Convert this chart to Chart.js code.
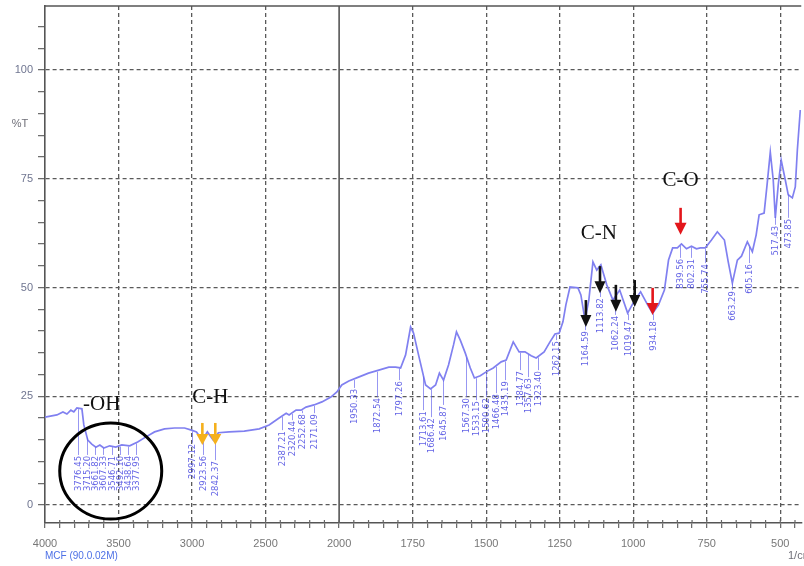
<!DOCTYPE html>
<html><head><meta charset="utf-8">
<script src="https://cdn.jsdelivr.net/npm/chart.js@4.4.1/dist/chart.umd.min.js"></script>
<style>html,body{margin:0;padding:0;background:#fff;overflow:hidden}#wrap{width:804px;height:566px;position:relative}</style>
</head><body><div id="wrap"><canvas id="c" width="804" height="566"></canvas></div>
<script>
// ---- data (wavenumber in 1/cm, transmittance in %T) ----
const wavenumbers = [4000,3919,3878,3851,3824,3804,3783,3749,3736,3709,3682,3654,3627,3600,3560,3519,3478,3424,3370,3316,3255,3187,3119,3051,3004,2970,2930,2896,2855,2821,2747,2645,2543,2476,2408,2360,2340,2293,2259,2225,2171,2117,2056,2015,1991,1967,1934,1900,1865,1831,1808,1791,1774,1757,1747,1730,1706,1689,1672,1659,1645,1628,1611,1601,1588,1571,1554,1540,1520,1500,1476,1449,1432,1408,1388,1368,1347,1330,1303,1283,1266,1252,1239,1229,1215,1188,1178,1164,1151,1137,1124,1110,1090,1069,1046,1019,995,975,951,934,914,894,880,866,850,836,819,802,785,772,755,734,714,690,677,663,646,632,612,595,582,572,555,545,534,524,517,507,497,483,473,459,449,442,432];
const transmittance = [20.2,20.7,21.4,20.9,21.8,21.4,22.3,22.1,18.4,14.9,14.0,13.3,13.8,13.1,13.6,13.3,13.8,13.6,14.5,15.6,16.8,17.5,17.7,17.7,17.2,16.8,14.9,16.8,14.9,16.6,16.8,17.0,17.5,18.4,20.0,21.1,20.7,21.8,21.8,22.5,23.0,23.7,24.8,26.0,27.6,28.5,29.4,30.3,31.0,31.7,31.7,31.5,34.5,40.9,39.5,34.5,27.6,26.7,27.6,30.3,28.7,32.2,36.8,39.8,37.9,34.9,31.5,29.2,29.7,30.6,31.5,32.9,33.3,37.5,35.2,35.2,34.3,33.8,35.2,37.5,39.3,39.5,42.1,46.0,50.1,49.9,48.3,42.5,47.1,55.9,54.0,55.2,50.6,47.1,49.4,44.1,47.1,49.0,46.0,44.1,46.0,49.4,56.3,59.1,59.1,60.0,58.9,59.5,58.9,59.1,59.1,60.9,62.8,60.9,55.9,51.0,56.3,57.2,60.5,58.2,62.1,66.7,67.1,73.6,81.1,74.7,66.0,73.6,79.3,74.7,71.3,70.6,73.1,81.6,90.8];
const xTickLabels = ['4000','3500','3000','2500','2000','1750','1500','1250','1000','750','500'];
const yTickLabels = [0,25,50,75,100];
const peakWavenumbers = [3776.45,3715.20,3661.82,3607.33,3546.71,3492.10,3438.64,3377.95,2997.12,2923.56,2842.37,2387.21,2320.44,2252.68,2171.09,1950.33,1872.54,1797.26,1713.61,1686.42,1645.87,1567.30,1533.15,1500.62,1466.48,1435.19,1384.77,1357.63,1323.40,1262.15,1164.59,1113.82,1062.24,1019.47,934.18,839.56,802.31,755.74,663.29,605.16,517.43,473.85];
const peakLabelTop = [11.5,11.5,11.5,11.5,11.5,11.5,11.5,11.5,14.3,11.5,10.3,17.2,19.5,21.1,21.1,26.9,24.8,28.7,21.8,20.2,23.0,24.8,24.1,24.8,25.7,28.7,31.0,29.4,31.0,37.9,40.2,47.8,43.7,42.5,42.5,56.8,56.8,55.6,49.4,55.6,64.4,66.0];
const bandNames = ['-OH','C-H','C-N','C-O'];
const bandNameWavenumbers = [3614,2875,1117,839];
const bandNameT = [23.0,24.8,62.5,74.5];
const arrowWavenumbers = [2930,2842,1161,1113,1059,995,934,839];
const arrowTipT = [13.8,13.8,40.9,48.7,44.4,45.5,43.7,62.1];
const arrowKinds = ['ch','ch','cn','cn','cn','cn','co','co'];

// split wavenumber axis: 500 cm-1 per unit above 2000, 250 cm-1 per unit below
function toAxis(v){ return v >= 2000 ? (4000 - v)/500 : 4 + (2000 - v)/250; }
function curveAt(v){
  for (let i=0;i<wavenumbers.length-1;i++){
    const a=wavenumbers[i], b=wavenumbers[i+1];
    if (v<=a && v>=b){ const t=(a-v)/(a-b); return transmittance[i]+t*(transmittance[i+1]-transmittance[i]); }
  }
  return transmittance[transmittance.length-1];
}
const points = wavenumbers.map((v,i)=>({x: toAxis(v), y: transmittance[i]}));
const isInt = v => Math.abs(v-Math.round(v))<1e-6;

const arrowStyle = {ch:{color:'#f5b01c',len:22,head:11,hw:6}, cn:{color:'#111',len:27,head:12,hw:5.5}, co:{color:'#e3161b',len:27,head:12,hw:6}};

const decor = {
  id:'decor',
  beforeDatasetsDraw(chart){
    const {ctx, chartArea:a, scales:{x,y}} = chart;
    ctx.save();
    ctx.strokeStyle='#555'; ctx.lineWidth=1.5;
    ctx.beginPath(); ctx.moveTo(a.left, a.top); ctx.lineTo(a.right, a.top); ctx.stroke();
    const px = x.getPixelForValue(toAxis(2000));
    ctx.lineWidth=1.6; ctx.strokeStyle='#555';
    ctx.beginPath(); ctx.moveTo(px, a.top); ctx.lineTo(px, a.bottom); ctx.stroke();
    // small upward part of x ticks (ticks cross the axis line)
    ctx.strokeStyle='#666'; ctx.lineWidth=1.2;
    x.ticks.forEach(t=>{
      const tx = x.getPixelForValue(t.value);
      if (tx < a.left+1) return;
      ctx.beginPath(); ctx.moveTo(tx, a.bottom); ctx.lineTo(tx, a.bottom-3); ctx.stroke();
    });
    ctx.restore();
  },
  afterDatasetsDraw(chart){
    const {ctx, chartArea:a, scales:{x,y}} = chart;
    ctx.save();
    // peak labels
    ctx.strokeStyle='rgba(100,100,235,0.75)'; ctx.fillStyle='rgba(70,70,225,0.85)';
    ctx.lineWidth=0.9; ctx.font='8.5px "DejaVu Sans"';
    peakWavenumbers.forEach((v,i)=>{
      const px = Math.round(x.getPixelForValue(toAxis(v)))+0.5;
      const y0 = y.getPixelForValue(curveAt(v))+1;
      const yt = y.getPixelForValue(peakLabelTop[i]);
      ctx.beginPath(); ctx.moveTo(px,y0); ctx.lineTo(px,yt); ctx.stroke();
      ctx.save(); ctx.translate(px, yt+1); ctx.rotate(-Math.PI/2);
      ctx.textAlign='right'; ctx.textBaseline='middle';
      ctx.fillText(v.toFixed(2),0,0); ctx.restore();
    });
    // band names
    ctx.fillStyle='#111'; ctx.font='21px "Liberation Serif"'; ctx.textAlign='center'; ctx.textBaseline='middle';
    bandNames.forEach((t,i)=>{
      ctx.fillText(t, x.getPixelForValue(toAxis(bandNameWavenumbers[i])), y.getPixelForValue(bandNameT[i]));
    });
    // circle around OH region
    ctx.strokeStyle='#000'; ctx.lineWidth=3;
    ctx.beginPath(); ctx.ellipse(x.getPixelForValue(toAxis(3553)), y.getPixelForValue(7.8), 51, 48, 0, 0, Math.PI*2); ctx.stroke();
    // arrows
    arrowWavenumbers.forEach((v,i)=>{
      const s = arrowStyle[arrowKinds[i]];
      const px = x.getPixelForValue(toAxis(v)), tip = y.getPixelForValue(arrowTipT[i]);
      ctx.strokeStyle=s.color; ctx.fillStyle=s.color; ctx.lineWidth=2.6;
      ctx.beginPath(); ctx.moveTo(px, tip-s.len); ctx.lineTo(px, tip-s.head+2); ctx.stroke();
      ctx.beginPath(); ctx.moveTo(px-s.hw, tip-s.head); ctx.lineTo(px+s.hw, tip-s.head); ctx.lineTo(px, tip); ctx.closePath(); ctx.fill();
    });
    // axis texts
    ctx.font='11px "Liberation Sans"'; ctx.fillStyle='#6f6f78'; ctx.textAlign='center';
    ctx.fillText('%T', 20, y.getPixelForValue(87.5));
    ctx.textAlign='left'; ctx.fillText('1/cm', 788, 556);
    ctx.font='10px "Liberation Sans"'; ctx.fillStyle='#4d70e6';
    ctx.fillText('MCF (90.0.02M)', 45, 556);
    ctx.restore();
  }
};

new Chart(document.getElementById('c'), {
  type:'line',
  data:{datasets:[{data:points, borderColor:'#8080f0', borderWidth:1.7, pointRadius:0, tension:0, fill:false}]},
  options:{
    responsive:false, animation:false, events:[],
    layout:{padding:{top:6,right:0,left:0,bottom:0}},
    plugins:{legend:{display:false}, tooltip:{enabled:false}},
    scales:{
      x:{type:'linear', min:0, max:10.285,
        afterBuildTicks:s=>{ const t=[]; for(let i=0;i<=51;i++) t.push({value:i/5}); s.ticks=t; },
        afterFit:s=>{ s.height=43; },
        ticks:{autoSkip:false, maxRotation:0, minRotation:0, padding:9, color:'#777', font:{family:'Liberation Sans', size:11},
          callback:v=> isInt(v) ? xTickLabels[Math.round(v)] : ''},
        grid:{color:c=> (isInt(c.tick.value) && Math.round(c.tick.value)!==0 && Math.round(c.tick.value)!==4) ? '#5a5a5a' : 'rgba(0,0,0,0)',
          lineWidth:1.3, tickColor:'#666', tickLength:5, tickWidth:1.2, tickBorderDash:[]},
        border:{display:true, color:'#555', width:1.6, dash:[4,3]}
      },
      y:{type:'linear', min:-4.14, max:114.7,
        afterBuildTicks:s=>{ const t=[]; for(let v=0;v<=110;v+=5) t.push({value:v}); s.ticks=t; },
        afterFit:s=>{ s.width=45; s.paddingTop=0; s.paddingBottom=0; },
        ticks:{autoSkip:false, padding:5, color:'#6f7590', font:{family:'Liberation Sans', size:11},
          callback:v=> yTickLabels.includes(v) ? String(v) : ''},
        grid:{color:c=> yTickLabels.includes(c.tick.value) ? '#5a5a5a' : 'rgba(0,0,0,0)',
          lineWidth:1.3, tickColor:'#666', tickLength:7, tickWidth:1.2, tickBorderDash:[]},
        border:{display:true, color:'#555', width:1.6, dash:[4,3]}
      }
    }
  },
  plugins:[decor]
});
</script></body></html>
